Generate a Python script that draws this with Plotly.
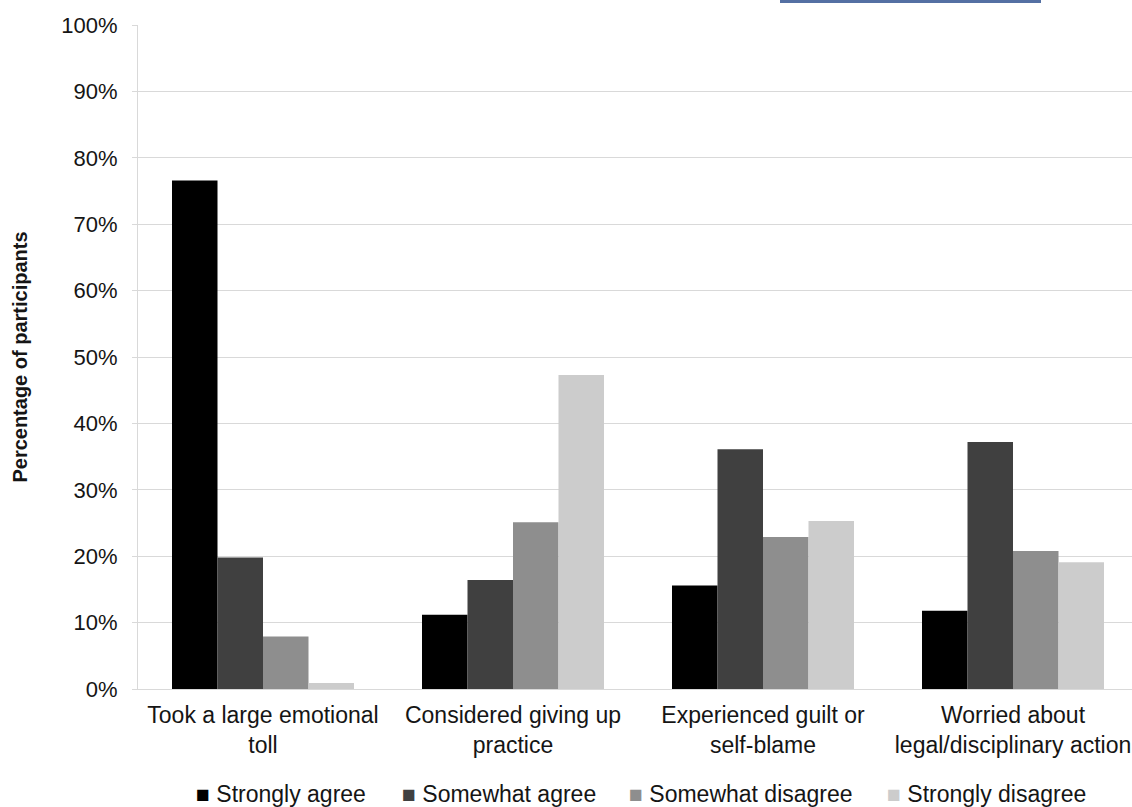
import plotly.graph_objects as go

# Survey statements shown along the x axis
categories = [
    "Took a large emotional<br>toll",
    "Considered giving up<br>practice",
    "Experienced guilt or<br>self-blame",
    "Worried about<br>legal/disciplinary action",
]

# Response shares (% of participants) per statement
strongly_agree = [76.6, 11.2, 15.6, 11.8]
somewhat_agree = [19.8, 16.4, 36.1, 37.2]
somewhat_disagree = [7.9, 25.1, 22.9, 20.8]
strongly_disagree = [0.9, 47.3, 25.3, 19.1]

series_names = ["Strongly agree", "Somewhat agree", "Somewhat disagree", "Strongly disagree"]
series_values = [strongly_agree, somewhat_agree, somewhat_disagree, strongly_disagree]
series_colors = ["#000000", "#404040", "#8e8e8e", "#cccccc"]

y_ticks = list(range(0, 101, 10))

FONT = "Liberation Sans, Arial, sans-serif"
TEXT = "#151515"

# plot area in pixels
W, H = 1132, 807
L, R, T, B = 138, 0, 25, 118
PW, PH = W - L - R, H - T - B


def px_x(x):
    return (x - L) / PW


def px_y(y):
    return (H - B - y) / PH


fig = go.Figure()
for name, vals, color in zip(series_names, series_values, series_colors):
    fig.add_trace(go.Bar(
        x=categories, y=vals, name=name,
        marker=dict(color=color, line=dict(width=0)),
        showlegend=False,
    ))

# legend row below the axis: coloured square + label for each series
legend_x = [194, 400, 627, 885]
annotations = []
for name, color, lx in zip(series_names, series_colors, legend_x):
    annotations.append(dict(
        xref="paper", yref="paper", x=px_x(lx), y=px_y(794),
        xanchor="left", yanchor="middle", showarrow=False,
        text=f"<span style='color:{color}'>■</span> {name}",
        font=dict(family=FONT, size=23, color=TEXT),
    ))

fig.update_layout(
    width=W, height=H,
    margin=dict(l=L, r=R, t=T, b=B, autoexpand=False),
    paper_bgcolor="white", plot_bgcolor="white",
    barmode="group", bargap=0.272, bargroupgap=0,
    font=dict(family=FONT, size=22, color=TEXT),
    showlegend=False,
    annotations=annotations,
    shapes=[dict(
        type="rect", xref="paper", yref="paper",
        x0=px_x(780), x1=px_x(1041),
        y0=px_y(0), y1=px_y(3),
        fillcolor="#5470a3", line=dict(width=0), layer="above",
    )],
)

fig.update_xaxes(
    range=[-0.5, 3.476], automargin=False,
    showline=True, linecolor="#d9d9d9", linewidth=1,
    ticks="", tickfont=dict(size=23, color=TEXT),
    ticklabelstandoff=5,
)

fig.update_yaxes(
    range=[0, 100], tickvals=y_ticks, ticktext=[f"{v}%" for v in y_ticks],
    automargin=False,
    showgrid=True, gridcolor="#d9d9d9", gridwidth=1,
    showline=True, linecolor="#d9d9d9", linewidth=1,
    ticks="outside", ticklen=5, tickcolor="#d9d9d9",
    tickfont=dict(size=22, color=TEXT),
    ticklabelstandoff=10,
    zeroline=False,
    title=dict(text="<b>Percentage of participants</b>",
               font=dict(size=20, color=TEXT), standoff=28),
)

fig.write_html("out.html")
